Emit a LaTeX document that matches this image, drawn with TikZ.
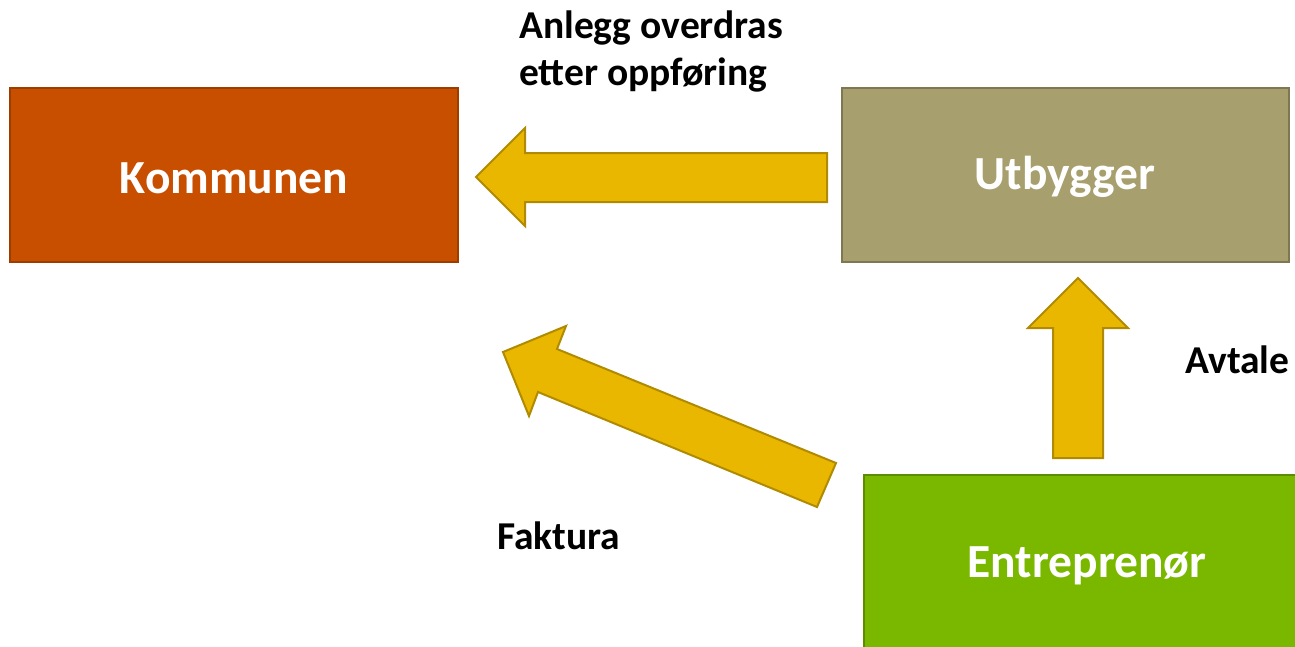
\documentclass[tikz,border=0pt]{standalone}
\usepackage{fontspec}
\setmainfont{Carlito}
\usepackage{tikz}
\usetikzlibrary{positioning}

\definecolor{kommfill}{HTML}{C84E00}
\definecolor{kommline}{HTML}{9E3D00}
\definecolor{utbfill}{HTML}{A89F6E}
\definecolor{utbline}{HTML}{7E7752}
\definecolor{entfill}{HTML}{7AB800}
\definecolor{entline}{HTML}{5C8C00}
\definecolor{pilfill}{HTML}{EAB700}
\definecolor{pilline}{HTML}{B08A00}

\tikzset{
    boks/.style={rectangle, draw, line width=2pt, text=white, font=\bfseries\fontsize{47.5}{56}\selectfont, inner sep=0pt},
    bokstekst/.style={text=white, font=\bfseries\fontsize{47.5}{56}\selectfont, inner sep=0pt},
    pil/.style={fill=pilfill, draw=pilline, line width=2pt, line join=miter},
    etikett/.style={font=\bfseries\fontsize{39.5}{47}\selectfont, inner sep=0pt, align=left}
}

\begin{document}
\begin{tikzpicture}[x=1pt, y=-1pt]
            \useasboundingbox (0,0) rectangle (1295,646);
            \clip (0,0) rectangle (1295,646);

            \node[boks, fill=kommfill, draw=kommline, minimum width=448pt, minimum height=174pt] at (234,175) (kommunen) {};
            \node[boks, fill=utbfill, draw=utbline, minimum width=447pt, minimum height=174pt] at (1065,175) (utbygger) {};
            \node[boks, fill=entfill, draw=entline, minimum width=446pt, minimum height=190pt] at (1087,570) (entreprenor) {};
            \node[bokstekst] at (234,178) (kommunentekst) {Kommunen};
            \node[bokstekst] at (1065,177) (utbyggertekst) {Utbygger};
            \node[bokstekst] at (1087,566) (entreprenortekst) {Entreprenør};

            \draw[pil] (827,153) -- (525,153) -- (525,128) -- (476,177) -- (525,226) -- (525,202) -- (827,202) -- cycle;
            \draw[pil] (1053,458) -- (1053,328) -- (1028,328) -- (1078,278) -- (1128,328) -- (1103,328) -- (1103,458) -- cycle;
            \draw[pil] (836,463) -- (557,349) -- (566,326) -- (503,352) -- (529,416) -- (538,392) -- (817,507) -- cycle;

            \node[etikett, anchor=north west] at (519,11) (overdras) {Anlegg overdras\\etter oppføring};
            \node[etikett, anchor=west] at (497,536) (faktura) {Faktura};
            \node[etikett, anchor=west] at (1185,360) (avtale) {Avtale};
        \end{tikzpicture}
\end{document}
